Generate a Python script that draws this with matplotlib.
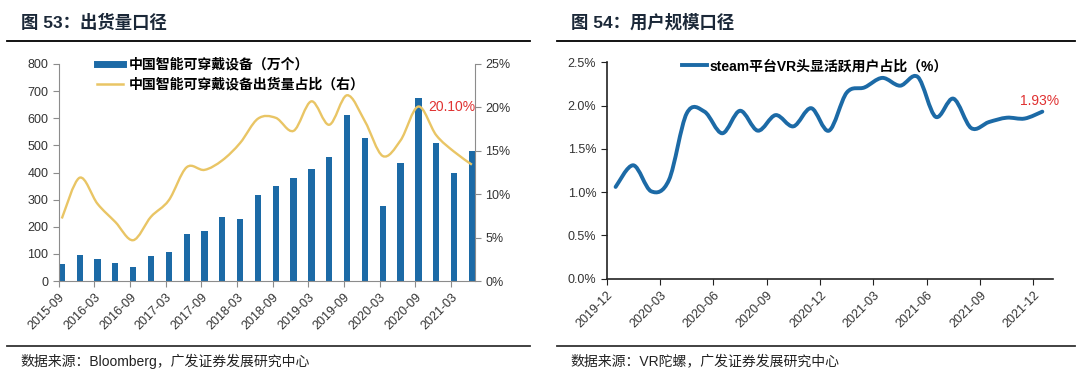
"""Two panels: wearable shipments (bars + share line) and steam VR user share."""

import matplotlib
matplotlib.use("Agg")
import matplotlib.pyplot as plt
from matplotlib.path import Path
from matplotlib.patches import PathPatch
from matplotlib.lines import Line2D
from matplotlib.ticker import FuncFormatter

plt.rcParams["font.family"] = ["Liberation Sans", "Noto Sans CJK SC", "DejaVu Sans"]

# ---- left panel data (quarterly, 2015-09 .. 2021-06)
quarters = ["2015-09", "2015-12", "2016-03", "2016-06", "2016-09", "2016-12",
            "2017-03", "2017-06", "2017-09", "2017-12", "2018-03", "2018-06",
            "2018-09", "2018-12", "2019-03", "2019-06", "2019-09", "2019-12",
            "2020-03", "2020-06", "2020-09", "2020-12", "2021-03", "2021-06"]
shipments = [61, 96, 81, 65, 50, 91, 106, 172, 186, 236, 227, 316,
             352, 379, 413, 456, 612, 526, 275, 436, 673, 510, 398, 479]
ship_share = [7.2, 11.9, 8.9, 6.8, 4.7, 7.4, 9.3, 13.1, 12.8, 13.9, 15.9, 18.7,
              18.8, 17.3, 20.7, 18.0, 21.4, 18.4, 14.4, 16.2, 20.1, 16.8, 14.9, 13.4]

# ---- right panel data (monthly, 2019-12 .. 2021-12)
vr_share = [1.06, 1.31, 1.01, 1.14, 1.91, 1.93, 1.68, 1.94, 1.71, 1.89, 1.76, 1.97,
            1.71, 2.15, 2.21, 2.32, 2.23, 2.33, 1.87, 2.08, 1.74, 1.81, 1.86, 1.85, 1.93]
vr_ticks = ["2019-12", "2020-03", "2020-06", "2020-09", "2020-12",
            "2021-03", "2021-06", "2021-09", "2021-12"]

BLUE = "#1c6aa6"
YELLOW = "#e9c565"
RED = "#e03131"
W, H = 1080, 381


def smooth(x, y):
    """Excel-like smoothed line as a bezier path."""
    n = len(x)
    verts = [(x[0], y[0])]
    codes = [Path.MOVETO]
    for i in range(n - 1):
        a = max(i - 1, 0)
        b = min(i + 2, n - 1)
        c1 = (x[i] + (x[i + 1] - x[a]) / 6, y[i] + (y[i + 1] - y[a]) / 6)
        c2 = (x[i + 1] - (x[b] - x[i]) / 6, y[i + 1] - (y[b] - y[i]) / 6)
        verts += [c1, c2, (x[i + 1], y[i + 1])]
        codes += [Path.CURVE4] * 3
    return Path(verts, codes)


def box(l, t, r, b):
    return [l / W, 1 - b / H, (r - l) / W, (b - t) / H]


fig = plt.figure(figsize=(W / 100, H / 100), dpi=100)

# titles, rules and footers
for x0, x1, title, src in [(7, 530, "图 53：出货量口径", "数据来源：Bloomberg，广发证券发展研究中心"),
                           (557, 1075, "图 54：用户规模口径", "数据来源：VR陀螺，广发证券发展研究中心")]:
    fig.text((x0 + 14) / W, 1 - 22 / H, title, fontsize=12.5, fontweight="bold",
             color="#1b2838", va="center", family=["Liberation Sans", "Noto Sans CJK SC"])
    fig.add_artist(Line2D([x0 / W, x1 / W], [1 - 41 / H] * 2, color="black", lw=1.3))
    fig.add_artist(Line2D([x0 / W, x1 / W], [1 - 346 / H] * 2, color="#333333", lw=1.3))
    fig.text((x0 + 13) / W, 1 - 361 / H, src, fontsize=10, color="#222222", va="center",
             family=["Liberation Sans", "Noto Sans CJK SC"])

# ---- left panel
ax = fig.add_axes(box(58.7, 64, 475, 281))
xs = list(range(len(shipments)))
ax.bar(xs, shipments, width=0.35, align="edge", color=BLUE, zorder=2)
ax.set_xlim(0, 23.35)
ax.set_ylim(0, 800)
ax.set_yticks(range(0, 801, 100))
ax.set_xticks(xs[::2])
ax.set_xticklabels(quarters[::2], rotation=45, ha="right", rotation_mode="anchor")
for s in ["top", "right"]:
    ax.spines[s].set_visible(False)
for s in ["left", "bottom"]:
    ax.spines[s].set_color("#8c8c8c")
ax.tick_params(colors="#8c8c8c", labelcolor="#333333", labelsize=9, length=4, direction="out")

ax2 = ax.twinx()
ax2.set_ylim(0, 25)
ax2.set_xlim(0, 23.35)
ax2.add_patch(PathPatch(smooth([i + 0.175 for i in xs], ship_share),
                        fill=False, edgecolor=YELLOW, lw=1.7, zorder=3))
ax2.set_yticks(range(0, 26, 5))
ax2.yaxis.set_major_formatter(FuncFormatter(lambda v, _: f"{v:.0f}%"))
for s in ["top", "left", "bottom"]:
    ax2.spines[s].set_visible(False)
ax2.spines["right"].set_color("#8c8c8c")
ax2.tick_params(colors="#8c8c8c", labelcolor="#333333", labelsize=9, length=4, direction="out")
ax2.text(20.7, ship_share[20] - 0.1, f"{ship_share[20]:.2f}%", color=RED, fontsize=10,
         ha="left", va="center")

handles = [Line2D([], [], color=BLUE, lw=5), Line2D([], [], color=YELLOW, lw=1.8)]
ax.legend(handles, ["中国智能可穿戴设备（万个）", "中国智能可穿戴设备出货量占比（右）"],
          loc="upper left", bbox_to_anchor=(97 / W, 1 - 58 / H), bbox_transform=fig.transFigure,
          frameon=False, borderpad=0, borderaxespad=0, handlelength=1.9, handletextpad=0.4,
          labelspacing=0.4, prop={"family": "Noto Sans CJK SC", "size": 10, "weight": "bold"})

# ---- right panel
bx = fig.add_axes(box(606.7, 62.3, 1053, 278.7))
mx = [i + 0.5 for i in range(len(vr_share))]
bx.add_patch(PathPatch(smooth(mx, vr_share), fill=False, edgecolor=BLUE, lw=2.8,
                       capstyle="round", joinstyle="round"))
bx.set_xlim(0, 25.1)
bx.set_ylim(0, 2.5)
bx.set_yticks([0, 0.5, 1.0, 1.5, 2.0, 2.5])
bx.yaxis.set_major_formatter(FuncFormatter(lambda v, _: f"{v:.1f}%"))
bx.set_xticks(range(0, 25, 3))
bx.set_xticklabels(vr_ticks, rotation=45, ha="right", rotation_mode="anchor")
for s in ["top", "right"]:
    bx.spines[s].set_visible(False)
for s in ["left", "bottom"]:
    bx.spines[s].set_color("#222222")
    bx.spines[s].set_linewidth(1.2)
bx.tick_params(colors="#222222", labelcolor="#333333", labelsize=9, length=4, direction="out")
bx.text(mx[-1] - 0.15, vr_share[-1] + 0.12, f"{vr_share[-1]:.2f}%", color=RED, fontsize=10,
        ha="center", va="center")
bx.legend([Line2D([], [], color=BLUE, lw=2.8)], ["steam平台VR头显活跃用户占比（%）"],
          loc="upper left", bbox_to_anchor=(682 / W, 1 - 59 / H), bbox_transform=fig.transFigure,
          frameon=False, borderpad=0, borderaxespad=0, handlelength=1.8, handletextpad=0.15,
          prop={"family": ["Liberation Sans", "Noto Sans CJK SC"], "size": 10, "weight": "bold"})

fig.savefig("out.png", dpi=100)
